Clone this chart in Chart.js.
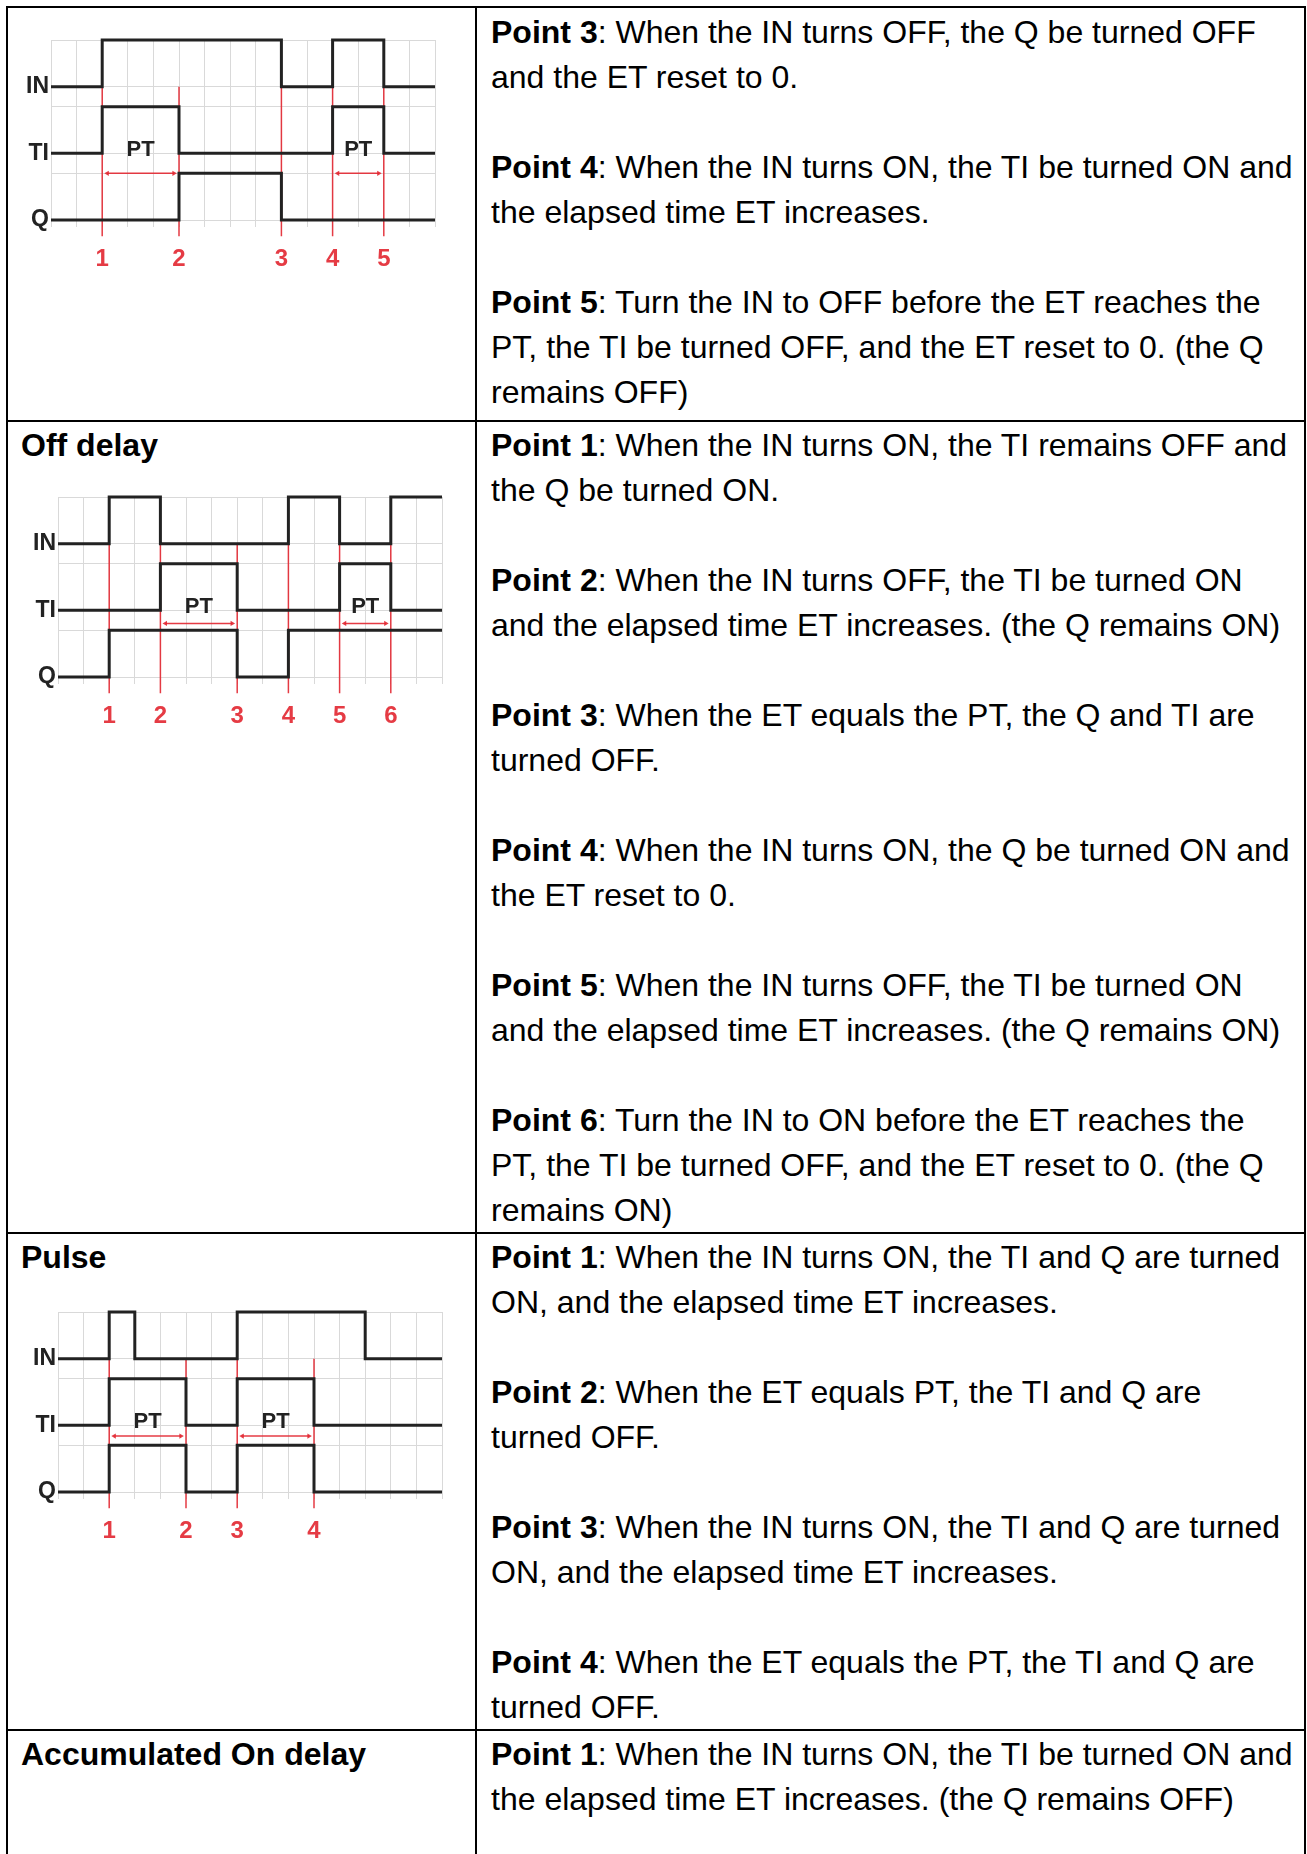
<!DOCTYPE html>
<html>
<head>
<meta charset="utf-8">
<script src="https://cdn.jsdelivr.net/npm/chart.js@4.4.1/dist/chart.umd.min.js"></script>
<style>
  body { margin: 0; background: #fff; }
  #page { position: relative; width: 1307px; height: 1854px; background: #fff; overflow: hidden;
          font-family: "Liberation Sans", Arial, sans-serif; color: #000; }
  .diagram { position: absolute; }
  .line { position: absolute; background: #000; z-index: 5; }
  .cell { position: absolute; font-size: 32px; line-height: 45px; white-space: nowrap; z-index: 4; }
  .cell p { margin: 0 0 45px 0; }
  .cell p:last-child { margin-bottom: 0; }
  .title { font-weight: bold; }
</style>
</head>
<body>
<div id="page">
  <canvas id="diagOn" class="diagram" width="460" height="276" style="left:1px;top:24px"></canvas>
  <canvas id="diagOff" class="diagram" width="460" height="276" style="left:8px;top:481px"></canvas>
  <canvas id="diagPulse" class="diagram" width="460" height="276" style="left:8px;top:1296px"></canvas>

  <!-- table borders -->
  <div class="line" style="left:6px;top:6px;width:1300px;height:2px"></div>
  <div class="line" style="left:6px;top:420px;width:1300px;height:2px"></div>
  <div class="line" style="left:6px;top:1232px;width:1300px;height:2px"></div>
  <div class="line" style="left:6px;top:1729px;width:1300px;height:2px"></div>
  <div class="line" style="left:6px;top:6px;width:2px;height:1848px"></div>
  <div class="line" style="left:475px;top:6px;width:2px;height:1848px"></div>
  <div class="line" style="left:1304px;top:6px;width:2px;height:1848px"></div>

  <!-- row 1 (end of On delay) -->
  <div class="cell" style="left:491px;top:10px">
    <p><b>Point 3</b>: When the IN turns OFF, the Q be turned OFF<br>and the ET reset to 0.</p>
    <p><b>Point 4</b>: When the IN turns ON, the TI be turned ON and<br>the elapsed time ET increases.</p>
    <p><b>Point 5</b>: Turn the IN to OFF before the ET reaches the<br>PT, the TI be turned OFF, and the ET reset to 0. (the Q<br>remains OFF)</p>
  </div>

  <!-- row 2: Off delay -->
  <div class="cell title" style="left:21px;top:423px">Off delay</div>
  <div class="cell" style="left:491px;top:423px">
    <p><b>Point 1</b>: When the IN turns ON, the TI remains OFF and<br>the Q be turned ON.</p>
    <p><b>Point 2</b>: When the IN turns OFF, the TI be turned ON<br>and the elapsed time ET increases. (the Q remains ON)</p>
    <p><b>Point 3</b>: When the ET equals the PT, the Q and TI are<br>turned OFF.</p>
    <p><b>Point 4</b>: When the IN turns ON, the Q be turned ON and<br>the ET reset to 0.</p>
    <p><b>Point 5</b>: When the IN turns OFF, the TI be turned ON<br>and the elapsed time ET increases. (the Q remains ON)</p>
    <p><b>Point 6</b>: Turn the IN to ON before the ET reaches the<br>PT, the TI be turned OFF, and the ET reset to 0. (the Q<br>remains ON)</p>
  </div>

  <!-- row 3: Pulse -->
  <div class="cell title" style="left:21px;top:1235px">Pulse</div>
  <div class="cell" style="left:491px;top:1235px">
    <p><b>Point 1</b>: When the IN turns ON, the TI and Q are turned<br>ON, and the elapsed time ET increases.</p>
    <p><b>Point 2</b>: When the ET equals PT, the TI and Q are<br>turned OFF.</p>
    <p><b>Point 3</b>: When the IN turns ON, the TI and Q are turned<br>ON, and the elapsed time ET increases.</p>
    <p><b>Point 4</b>: When the ET equals the PT, the TI and Q are<br>turned OFF.</p>
  </div>

  <!-- row 4: Accumulated On delay -->
  <div class="cell title" style="left:21px;top:1732px">Accumulated On delay</div>
  <div class="cell" style="left:491px;top:1732px">
    <p><b>Point 1</b>: When the IN turns ON, the TI be turned ON and<br>the elapsed time ET increases. (the Q remains OFF)</p>
  </div>
</div>

<script>
// Signals are [time, state] pairs: the state holds until the next pair
// On delay (bottom part of the row above)
const onDelayIN = [[0, 0], [2, 1], [9, 0], [11, 1], [13, 0], [15, 0]];
const onDelayTI = [[0, 0], [2, 1], [5, 0], [11, 1], [13, 0], [15, 0]];
const onDelayQ = [[0, 0], [5, 1], [9, 0], [15, 0]];
const onDelayPoints = [2, 5, 9, 11, 13];
const onDelayPT = [[2, 5], [11, 13]];

// Off delay
const offDelayIN = [[0, 0], [2, 1], [4, 0], [9, 1], [11, 0], [13, 1], [15, 1]];
const offDelayTI = [[0, 0], [4, 1], [7, 0], [11, 1], [13, 0], [15, 0]];
const offDelayQ = [[0, 0], [2, 1], [7, 0], [9, 1], [15, 1]];
const offDelayPoints = [2, 4, 7, 9, 11, 13];
const offDelayPT = [[4, 7], [11, 13]];

// Pulse
const pulseIN = [[0, 0], [2, 1], [3, 0], [7, 1], [12, 0], [15, 0]];
const pulseTI = [[0, 0], [2, 1], [5, 0], [7, 1], [10, 0], [15, 0]];
const pulseQ = [[0, 0], [2, 1], [5, 0], [7, 1], [10, 0], [15, 0]];
const pulsePoints = [2, 5, 7, 10];
const pulsePT = [[2, 5], [7, 10]];

// Signal rows and their labels
const signalNames = ["Q", "TI", "IN"];
const signalBase = [0, 1.43, 2.86];
const timeSteps = 15;

const fontFamily = '"Liberation Sans", Arial, sans-serif';
const red = "rgba(226, 38, 48, 0.9)";
const ink = "#222";

// Draws the "PT" text in the middle of each arrow
const ptLabels = {
    id: "ptLabels",
    afterDatasetsDraw(chart, args, opts) {
        const ctx = chart.ctx;
        const x = chart.scales.x, y = chart.scales.y;
        ctx.save();
        ctx.font = "bold 22px " + fontFamily;
        ctx.fillStyle = ink;
        ctx.textAlign = "center";
        ctx.textBaseline = "middle";
        opts.spans.forEach(s => {
            ctx.fillText("PT", x.getPixelForValue((s[0] + s[1]) / 2), y.getPixelForValue(opts.level));
        });
        ctx.restore();
    }
};

function toPoints(sig, base) {
    return sig.map(s => ({ x: s[0], y: base + s[1] }));
}

function makeDiagram(id, inSig, tiSig, qSig, points, spans, arrowLevel) {
    const datasets = [];
    const sigs = [qSig, tiSig, inSig];

    // black signal traces (horizontal first, then the edge)
    sigs.forEach((sig, i) => {
        datasets.push({
            data: toPoints(sig, signalBase[i]),
            borderColor: ink, borderWidth: 3, stepped: "before",
            pointRadius: 0, fill: false, clip: false, order: 0,
            borderCapStyle: "butt", borderJoinStyle: "miter"
        });
    });

    // red PT arrows
    spans.forEach(s => {
        datasets.push({
            data: [{ x: s[0] + 0.2, y: arrowLevel }, { x: s[1] - 0.2, y: arrowLevel }],
            borderColor: red, borderWidth: 1.5,
            pointStyle: "triangle", pointRadius: 3, pointRotation: [-90, 90],
            pointBackgroundColor: red, pointBorderWidth: 0,
            clip: false, order: 1
        });
    });

    // red vertical marker lines
    points.forEach(p => {
        datasets.push({
            data: [{ x: p, y: signalBase[2] }, { x: p, y: -0.35 }],
            borderColor: red, borderWidth: 1.5, pointRadius: 0,
            clip: false, order: 2
        });
    });

    return new Chart(document.getElementById(id), {
        type: "line",
        data: { datasets: datasets },
        options: {
            responsive: false,
            animation: false,
            events: [],
            // top padding larger than half a tick label, so the plot area starts exactly here
            layout: { padding: { left: 0, right: 26, top: 16, bottom: 0 } },
            plugins: {
                legend: { display: false },
                tooltip: { enabled: false },
                ptLabels: { spans: spans, level: signalBase[1] + 0.07 }
            },
            scales: {
                x: {
                    type: "linear", min: 0, max: timeSteps,
                    grid: { color: "#d9d9d9", lineWidth: 1, drawTicks: false },
                    border: { display: false },
                    ticks: {
                        stepSize: 1, autoSkip: false, maxRotation: 0, padding: 18,
                        color: red, font: { family: fontFamily, size: 24, weight: "bold" },
                        callback: v => {
                            const i = points.indexOf(v);
                            return i >= 0 ? String(i + 1) : "";
                        }
                    },
                    afterFit: s => { s.height = 73; }
                },
                y: {
                    type: "linear", min: -0.15, max: signalBase[2] + 1,
                    afterBuildTicks: s => {
                        const ticks = [];
                        signalBase.forEach(b => { ticks.push({ value: b }); ticks.push({ value: b + 1 }); });
                        s.ticks = ticks;
                    },
                    grid: { color: "#d9d9d9", lineWidth: 1, drawTicks: false },
                    border: { display: false },
                    ticks: {
                        padding: 2, color: ink,
                        font: { family: fontFamily, size: 23, weight: "bold" },
                        callback: v => {
                            const i = signalBase.indexOf(v);
                            return i >= 0 ? signalNames[i] : "";
                        }
                    },
                    afterFit: s => { s.width = 50; }
                }
            }
        },
        plugins: [ptLabels]
    });
}

makeDiagram("diagOn", onDelayIN, onDelayTI, onDelayQ, onDelayPoints, onDelayPT, 1.0);
makeDiagram("diagOff", offDelayIN, offDelayTI, offDelayQ, offDelayPoints, offDelayPT, 1.15);
makeDiagram("diagPulse", pulseIN, pulseTI, pulseQ, pulsePoints, pulsePT, 1.2);
</script>
</body>
</html>
